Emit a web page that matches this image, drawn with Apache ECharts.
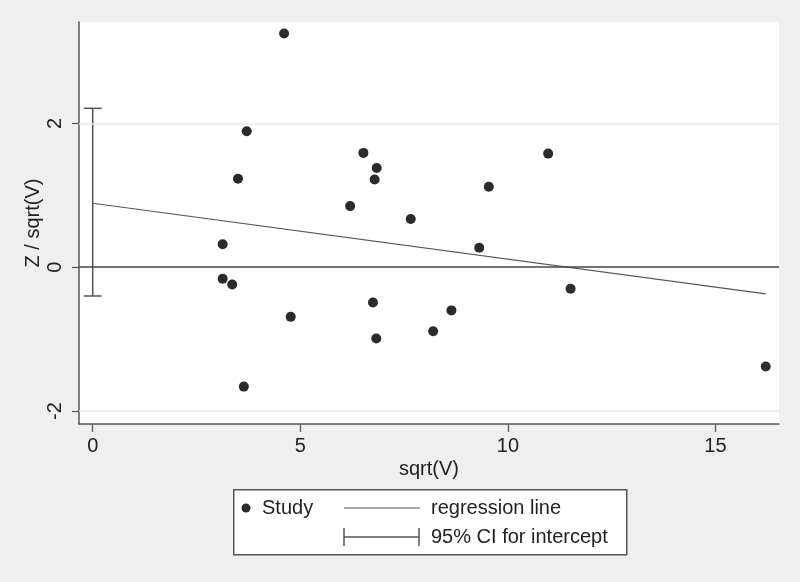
<!DOCTYPE html>
<html>
<head>
<meta charset="utf-8">
<script src="https://cdn.jsdelivr.net/npm/echarts@6/dist/echarts.min.js"></script>
<style>
html,body{margin:0;padding:0;background:#efefef;}
#chart{width:800px;height:582px;}
</style>
</head>
<body>
<div id="chart"></div>
<script>
// ---- data ----
var studyX = [4.61, 3.71, 3.50, 6.52, 6.84, 6.79, 6.20, 3.13, 3.13, 3.36, 6.75, 4.77, 6.83, 3.64, 10.97, 9.54, 7.66, 9.31, 11.51, 8.64, 8.20, 16.21];
var studyY = [3.25, 1.89, 1.23, 1.59, 1.38, 1.22, 0.85, 0.32, -0.16, -0.24, -0.49, -0.69, -0.99, -1.66, 1.58, 1.12, 0.67, 0.27, -0.30, -0.60, -0.89, -1.38];
var regX = [0, 16.21];
var regY = [0.89, -0.37];
var ciX = 0;
var ciLow = -0.40;
var ciHigh = 2.21;
var xTicks = [0, 5, 10, 15];
var yTicks = [-2, 0, 2];
var yGrid = [-2, 2];
var refLineY = 0;
var xTitle = 'sqrt(V)';
var yTitle = 'Z / sqrt(V)';
var legendLabels = ['Study', 'regression line', '95% CI for intercept'];

var FONT = '"Liberation Sans", Arial, sans-serif';
var TXT = '#222222';
var AX = '#555555';

var chart = echarts.init(document.getElementById('chart'), null, {renderer: 'canvas'});

var points = studyX.map(function (x, i) { return [x, studyY[i]]; });
var regData = regX.map(function (x, i) { return [x, regY[i]]; });

var option = {
  backgroundColor: '#efefef',
  animation: false,
  grid: {left: 79, right: 21, top: 22, bottom: 158, containLabel: false, show: true, backgroundColor: '#ffffff', borderWidth: 0},
  xAxis: {
    type: 'value', min: -0.33, max: 16.53,
    name: xTitle, nameLocation: 'middle', nameGap: 35, nameMoveOverlap: false,
    nameTextStyle: {fontFamily: FONT, fontSize: 20, color: TXT},
    axisLine: {show: true, onZero: false, lineStyle: {color: AX, width: 1.5}},
    axisTick: {show: true, length: 8, customValues: xTicks, lineStyle: {color: AX, width: 1.2}},
    axisLabel: {customValues: xTicks, margin: 12, fontFamily: FONT, fontSize: 20, color: TXT},
    splitLine: {show: false}
  },
  yAxis: {
    type: 'value', min: -2.18, max: 3.41,
    name: yTitle, nameLocation: 'middle', nameGap: 36, nameRotate: 90, nameMoveOverlap: false,
    nameTextStyle: {fontFamily: FONT, fontSize: 20, color: TXT},
    axisLine: {show: true, onZero: false, lineStyle: {color: AX, width: 1.5}},
    axisTick: {show: true, length: 7, customValues: yTicks, lineStyle: {color: AX, width: 1.2}},
    axisLabel: {customValues: yTicks, rotate: 90, margin: 14, fontFamily: FONT, fontSize: 20, color: TXT},
    splitLine: {show: false}
  },
  series: [
    {
      type: 'line', data: [], z: 1, silent: true,
      markLine: {
        silent: true, symbol: 'none', label: {show: false},
        lineStyle: {color: '#e9e9e9', width: 1.5, type: 'solid'},
        data: yGrid.map(function (v) { return {yAxis: v}; })
      }
    },
    {
      type: 'line', data: [], z: 2, silent: true,
      markLine: {
        silent: true, symbol: 'none', label: {show: false},
        lineStyle: {color: '#444444', width: 1.5, type: 'solid'},
        data: [{yAxis: refLineY}]
      }
    },
    {
      name: legendLabels[1], type: 'line', data: regData, z: 3,
      showSymbol: false, symbol: 'none',
      lineStyle: {color: '#555555', width: 1.2}
    },
    {
      name: legendLabels[2], type: 'custom', z: 3,
      data: [[ciX, ciLow, ciHigh]],
      renderItem: function (params, api) {
        var top = api.coord([api.value(0), api.value(2)]);
        var bot = api.coord([api.value(0), api.value(1)]);
        var hw = 9;
        var st = {stroke: '#555555', lineWidth: 1.5};
        return {type: 'group', children: [
          {type: 'line', shape: {x1: top[0], y1: top[1], x2: bot[0], y2: bot[1]}, style: st},
          {type: 'line', shape: {x1: top[0] - hw, y1: top[1], x2: top[0] + hw, y2: top[1]}, style: st},
          {type: 'line', shape: {x1: bot[0] - hw, y1: bot[1], x2: bot[0] + hw, y2: bot[1]}, style: st}
        ]};
      }
    },
    {
      name: legendLabels[0], type: 'scatter', data: points, z: 4,
      symbol: 'circle', symbolSize: 10,
      itemStyle: {color: '#2b2b2b', opacity: 1}
    }
  ],
  graphic: [
    {type: 'rect', left: 233, top: 489, shape: {width: 393, height: 65}, style: {fill: '#ffffff', stroke: '#555555', lineWidth: 1.5}},
    {type: 'circle', shape: {cx: 246, cy: 508, r: 4.5}, style: {fill: '#2b2b2b'}},
    {type: 'text', x: 262, y: 508, style: {text: legendLabels[0], font: '20px ' + FONT, fill: TXT, verticalAlign: 'middle'}},
    {type: 'line', shape: {x1: 344, y1: 508, x2: 420, y2: 508}, style: {stroke: '#555555', lineWidth: 1.2}},
    {type: 'text', x: 431, y: 508, style: {text: legendLabels[1], font: '20px ' + FONT, fill: TXT, verticalAlign: 'middle'}},
    {type: 'line', shape: {x1: 344, y1: 537, x2: 419, y2: 537}, style: {stroke: '#555555', lineWidth: 1.5}},
    {type: 'line', shape: {x1: 344, y1: 528, x2: 344, y2: 546}, style: {stroke: '#555555', lineWidth: 1.5}},
    {type: 'line', shape: {x1: 419, y1: 528, x2: 419, y2: 546}, style: {stroke: '#555555', lineWidth: 1.5}},
    {type: 'text', x: 431, y: 537, style: {text: legendLabels[2], font: '20px ' + FONT, fill: TXT, verticalAlign: 'middle'}}
  ]
};
chart.setOption(option);
</script>
</body>
</html>
